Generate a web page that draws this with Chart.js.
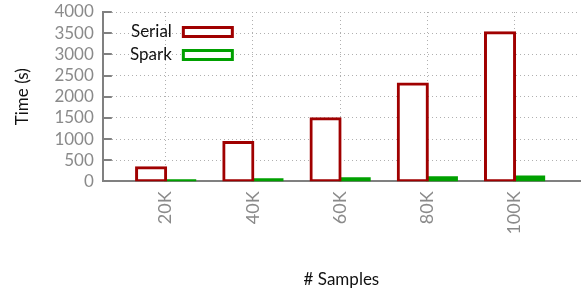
<!DOCTYPE html>
<html><head><meta charset="utf-8">
<script src="https://cdn.jsdelivr.net/npm/chart.js@4"></script>
<style>html,body{margin:0;padding:0;background:#fff}#wrap{width:582px;height:293px}</style>
</head><body><div id="wrap"><canvas id="c"></canvas></div>
<script>
const categories = ['20K', '40K', '60K', '80K', '100K'];
const serialTimes = [320, 920, 1480, 2300, 3510];
const sparkTimes = [10, 35, 60, 83, 100];
const yMin = 0, yMax = 4000, yStep = 500;

const FONT = 'Lato, "DejaVu Sans", sans-serif';

const innerTicks = {
  id: 'innerTicks',
  afterDatasetsDraw(chart) {
    const y = chart.scales.y, ctx = chart.ctx, a = chart.chartArea;
    ctx.save();
    ctx.strokeStyle = '#808080';
    ctx.lineWidth = 2;
    y.ticks.forEach((t, i) => {
      const py = Math.round(y.getPixelForTick(i));
      ctx.beginPath();
      ctx.moveTo(a.left, py);
      ctx.lineTo(a.left + 9, py);
      ctx.stroke();
    });
    ctx.restore();
  }
};

const insideLegend = {
  id: 'insideLegend',
  afterDraw(chart) {
    const ctx = chart.ctx, a = chart.chartArea;
    ctx.save();
    ctx.font = '17px ' + FONT;
    ctx.textAlign = 'right';
    ctx.textBaseline = 'middle';
    chart.data.datasets.forEach((ds, i) => {
      const cy = a.top + 20 + i * 23;
      ctx.fillStyle = '#111';
      ctx.fillText(ds.label, a.left + 69, cy);
      ctx.fillStyle = '#fff';
      ctx.strokeStyle = ds.borderColor;
      ctx.lineWidth = 3;
      ctx.fillRect(a.left + 80.5, cy - 4.5, 49, 9);
      ctx.strokeRect(a.left + 80.5, cy - 4.5, 49, 9);
    });
    ctx.restore();
  }
};

new Chart(document.getElementById('c'), {
  type: 'bar',
  data: {
    datasets: [
      { label: 'Serial', data: serialTimes.map((v, i) => ({x: i, y: v})),
        backgroundColor: '#ffffff', borderColor: '#a00000', borderWidth: 3,
        borderSkipped: false, inflateAmount: 1.5 },
      { label: 'Spark', data: sparkTimes.map((v, i) => ({x: i, y: v})),
        backgroundColor: '#00a000', borderColor: '#00a000', borderWidth: 0,
        borderSkipped: false, inflateAmount: 1.5 }
    ]
  },
  options: {
    responsive: true,
    maintainAspectRatio: false,
    animation: false,
    devicePixelRatio: 1,
    categoryPercentage: 0.667,
    barPercentage: 1.0,
    layout: { padding: { left: 12, right: 2, top: 12, bottom: 3 } },
    plugins: { legend: { display: false }, tooltip: { enabled: false } },
    scales: {
      x: {
        type: 'linear',
        offset: false,
        min: -0.72, max: 4.75,
        grid: { offset: false, color: '#b0b0b0', lineWidth: 1, drawTicks: false },
        border: { display: true, color: '#808080', width: 2, dash: [1, 3] },
        ticks: {
          stepSize: 1, includeBounds: false, autoSkip: false,
          minRotation: 90, maxRotation: 90, padding: 10,
          color: '#8a8a8a', font: { family: FONT, size: 18 },
          callback: (v) => Number.isInteger(v) ? categories[v] : ''
        },
        title: { display: true, text: '# Samples', color: '#111',
          font: { family: FONT, size: 17 }, padding: { top: 25, bottom: 0 } }
      },
      y: {
        min: yMin, max: yMax,
        grid: { color: '#b0b0b0', lineWidth: 1, drawTicks: false },
        border: { display: true, color: '#808080', width: 2, dash: [1, 3] },
        ticks: { stepSize: yStep, autoSkip: false, padding: 9, color: '#8a8a8a',
          font: { family: FONT, size: 17, lineHeight: 0.1 }, callback: (v) => String(v) },
        title: { display: true, text: 'Time (s)', color: '#111',
          font: { family: FONT, size: 17 }, padding: { top: 0, bottom: 13 } }
      }
    }
  },
  plugins: [innerTicks, insideLegend]
});
</script>
</body></html>
